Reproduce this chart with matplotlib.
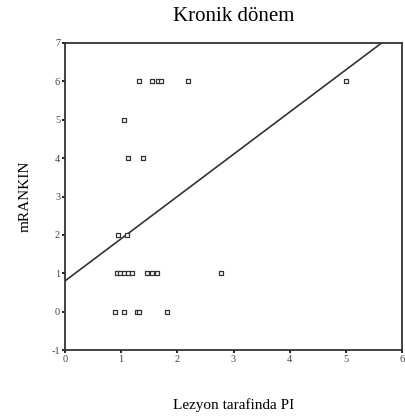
import numpy as np
import matplotlib
matplotlib.use('Agg')
import matplotlib.pyplot as plt

plt.rcParams['font.family'] = ['Liberation Serif', 'DejaVu Serif']
plt.rcParams['axes.unicode_minus'] = False

# lesion-side PI vs chronic mRankin score
pi_values = [1.32, 1.55, 1.65, 1.71, 2.19, 5.0,
             1.05,
             1.12, 1.39,
             0.94, 1.10,
             0.93, 0.98, 1.05, 1.12, 1.19, 1.46, 1.55, 1.64, 2.78,
             0.89, 1.05, 1.28, 1.31, 1.81]
mrankin = [6, 6, 6, 6, 6, 6,
           5,
           4, 4,
           2, 2,
           1, 1, 1, 1, 1, 1, 1, 1, 1,
           0, 0, 0, 0, 0]

# linear fit line
intercept = 0.80
slope = 1.10

x_ticks = [0, 1, 2, 3, 4, 5, 6]
y_ticks = [-1, 0, 1, 2, 3, 4, 5, 6, 7]

fig = plt.figure(figsize=(4.05, 4.18), dpi=100)
ax = fig.add_axes([65/405, 1 - 350/418, 337/405, 307/418])

ax.scatter(pi_values, mrankin, marker='s', s=12, facecolors='white',
           edgecolors='#333333', linewidths=0.9, zorder=3)

xx = np.array([0, 6])
ax.plot(xx, intercept + slope * xx, color='#333333', lw=1.2, zorder=2)

ax.set_xlim(0, 6)
ax.set_ylim(-1, 7)
ax.set_xticks(x_ticks)
ax.set_yticks(y_ticks)
ax.tick_params(direction='out', length=2, width=1.2, labelsize=7.5,
               labelcolor='#444444', pad=1.5)
for s in ax.spines.values():
    s.set_linewidth(1.3)
    s.set_color('#333333')

ax.set_title('Kronik dönem', fontsize=15, pad=16)
ax.set_xlabel('Lezyon tarafinda PI', fontsize=11, labelpad=25)
ax.set_ylabel('mRANKIN', fontsize=11, labelpad=14)

fig.savefig('out.png', dpi=100)
